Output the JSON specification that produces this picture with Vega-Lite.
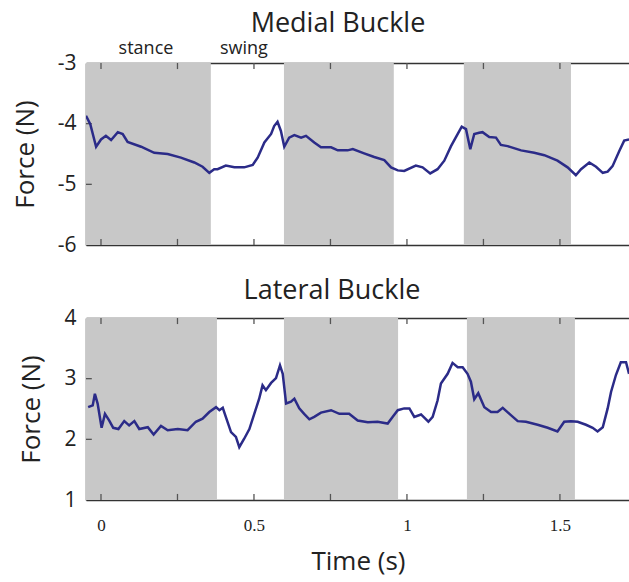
{
  "$schema": "https://vega.github.io/schema/vega-lite/v6.json",
  "padding": {"left": 12, "top": 10, "right": 0, "bottom": 4},
  "background": "white",
  "config": {
    "font": "Open Sans",
    "view": {"stroke": null},
    "axis": {"domainColor": "#333333", "domainWidth": 1.5, "ticks": false, "grid": false, "zindex": 1, "labelColor": "#222222", "titleColor": "#222222", "titleFontWeight": "normal", "labelFontSize": 21, "titleFontSize": 26, "labelFont": "Open Sans", "titleFont": "Open Sans"},
    "title": {"fontSize": 27, "fontWeight": "normal", "color": "#222222", "font": "Open Sans"}
  },
  "datasets": {
    "medial": [
      {"t": -0.049, "f": -3.87}, {"t": -0.035, "f": -4.01}, {"t": -0.016, "f": -4.38}, {"t": 0.0, "f": -4.26}, {"t": 0.016, "f": -4.2}, {"t": 0.033, "f": -4.27}, {"t": 0.055, "f": -4.14}, {"t": 0.071, "f": -4.17}, {"t": 0.087, "f": -4.3}, {"t": 0.131, "f": -4.38}, {"t": 0.174, "f": -4.48}, {"t": 0.218, "f": -4.5}, {"t": 0.261, "f": -4.56}, {"t": 0.305, "f": -4.64}, {"t": 0.332, "f": -4.71}, {"t": 0.354, "f": -4.81}, {"t": 0.37, "f": -4.75}, {"t": 0.381, "f": -4.75}, {"t": 0.408, "f": -4.69}, {"t": 0.436, "f": -4.72}, {"t": 0.468, "f": -4.72}, {"t": 0.496, "f": -4.68}, {"t": 0.512, "f": -4.56}, {"t": 0.534, "f": -4.31}, {"t": 0.556, "f": -4.17}, {"t": 0.566, "f": -4.04}, {"t": 0.577, "f": -3.97}, {"t": 0.588, "f": -4.12}, {"t": 0.599, "f": -4.38}, {"t": 0.615, "f": -4.23}, {"t": 0.632, "f": -4.19}, {"t": 0.654, "f": -4.23}, {"t": 0.67, "f": -4.2}, {"t": 0.697, "f": -4.31}, {"t": 0.719, "f": -4.39}, {"t": 0.752, "f": -4.39}, {"t": 0.774, "f": -4.44}, {"t": 0.806, "f": -4.44}, {"t": 0.823, "f": -4.42}, {"t": 0.86, "f": -4.49}, {"t": 0.893, "f": -4.55}, {"t": 0.926, "f": -4.6}, {"t": 0.948, "f": -4.72}, {"t": 0.97, "f": -4.77}, {"t": 0.991, "f": -4.78}, {"t": 1.029, "f": -4.69}, {"t": 1.051, "f": -4.72}, {"t": 1.076, "f": -4.82}, {"t": 1.1, "f": -4.75}, {"t": 1.122, "f": -4.61}, {"t": 1.144, "f": -4.37}, {"t": 1.166, "f": -4.17}, {"t": 1.179, "f": -4.05}, {"t": 1.193, "f": -4.09}, {"t": 1.207, "f": -4.42}, {"t": 1.22, "f": -4.17}, {"t": 1.236, "f": -4.15}, {"t": 1.247, "f": -4.14}, {"t": 1.269, "f": -4.22}, {"t": 1.291, "f": -4.23}, {"t": 1.307, "f": -4.35}, {"t": 1.329, "f": -4.37}, {"t": 1.373, "f": -4.44}, {"t": 1.416, "f": -4.48}, {"t": 1.449, "f": -4.52}, {"t": 1.492, "f": -4.61}, {"t": 1.525, "f": -4.72}, {"t": 1.552, "f": -4.85}, {"t": 1.569, "f": -4.75}, {"t": 1.596, "f": -4.64}, {"t": 1.618, "f": -4.71}, {"t": 1.64, "f": -4.81}, {"t": 1.656, "f": -4.79}, {"t": 1.672, "f": -4.7}, {"t": 1.694, "f": -4.45}, {"t": 1.71, "f": -4.28}, {"t": 1.726, "f": -4.26}
    ],
    "lateral": [
      {"t": -0.042, "f": 2.53}, {"t": -0.027, "f": 2.56}, {"t": -0.02, "f": 2.75}, {"t": -0.011, "f": 2.59}, {"t": 0.002, "f": 2.19}, {"t": 0.013, "f": 2.42}, {"t": 0.027, "f": 2.31}, {"t": 0.04, "f": 2.19}, {"t": 0.057, "f": 2.17}, {"t": 0.076, "f": 2.3}, {"t": 0.092, "f": 2.23}, {"t": 0.109, "f": 2.3}, {"t": 0.125, "f": 2.17}, {"t": 0.153, "f": 2.2}, {"t": 0.172, "f": 2.08}, {"t": 0.196, "f": 2.22}, {"t": 0.218, "f": 2.15}, {"t": 0.251, "f": 2.17}, {"t": 0.283, "f": 2.15}, {"t": 0.31, "f": 2.29}, {"t": 0.332, "f": 2.34}, {"t": 0.354, "f": 2.45}, {"t": 0.376, "f": 2.53}, {"t": 0.387, "f": 2.48}, {"t": 0.398, "f": 2.52}, {"t": 0.408, "f": 2.37}, {"t": 0.425, "f": 2.12}, {"t": 0.441, "f": 2.04}, {"t": 0.452, "f": 1.87}, {"t": 0.468, "f": 2.01}, {"t": 0.485, "f": 2.17}, {"t": 0.501, "f": 2.42}, {"t": 0.517, "f": 2.67}, {"t": 0.528, "f": 2.89}, {"t": 0.539, "f": 2.81}, {"t": 0.556, "f": 2.93}, {"t": 0.572, "f": 3.01}, {"t": 0.585, "f": 3.22}, {"t": 0.594, "f": 3.08}, {"t": 0.605, "f": 2.59}, {"t": 0.621, "f": 2.62}, {"t": 0.632, "f": 2.67}, {"t": 0.648, "f": 2.51}, {"t": 0.664, "f": 2.42}, {"t": 0.681, "f": 2.33}, {"t": 0.697, "f": 2.37}, {"t": 0.719, "f": 2.44}, {"t": 0.752, "f": 2.48}, {"t": 0.779, "f": 2.42}, {"t": 0.811, "f": 2.42}, {"t": 0.839, "f": 2.31}, {"t": 0.872, "f": 2.28}, {"t": 0.904, "f": 2.29}, {"t": 0.937, "f": 2.26}, {"t": 0.953, "f": 2.37}, {"t": 0.97, "f": 2.48}, {"t": 0.991, "f": 2.51}, {"t": 1.008, "f": 2.51}, {"t": 1.024, "f": 2.37}, {"t": 1.046, "f": 2.41}, {"t": 1.07, "f": 2.29}, {"t": 1.084, "f": 2.37}, {"t": 1.1, "f": 2.64}, {"t": 1.111, "f": 2.92}, {"t": 1.133, "f": 3.08}, {"t": 1.149, "f": 3.26}, {"t": 1.166, "f": 3.19}, {"t": 1.182, "f": 3.19}, {"t": 1.198, "f": 3.08}, {"t": 1.209, "f": 2.95}, {"t": 1.22, "f": 2.66}, {"t": 1.233, "f": 2.76}, {"t": 1.253, "f": 2.53}, {"t": 1.275, "f": 2.45}, {"t": 1.296, "f": 2.45}, {"t": 1.313, "f": 2.52}, {"t": 1.335, "f": 2.42}, {"t": 1.362, "f": 2.3}, {"t": 1.389, "f": 2.29}, {"t": 1.427, "f": 2.24}, {"t": 1.46, "f": 2.19}, {"t": 1.492, "f": 2.13}, {"t": 1.514, "f": 2.29}, {"t": 1.536, "f": 2.3}, {"t": 1.558, "f": 2.29}, {"t": 1.585, "f": 2.24}, {"t": 1.607, "f": 2.19}, {"t": 1.623, "f": 2.13}, {"t": 1.64, "f": 2.2}, {"t": 1.656, "f": 2.51}, {"t": 1.667, "f": 2.78}, {"t": 1.683, "f": 3.06}, {"t": 1.699, "f": 3.27}, {"t": 1.716, "f": 3.27}, {"t": 1.726, "f": 3.08}
    ],
    "medialShade": [
      {"start": -0.049, "end": 0.359}, {"start": 0.598, "end": 0.957}, {"start": 1.186, "end": 1.536}
    ],
    "lateralShade": [
      {"start": -0.049, "end": 0.379}, {"start": 0.598, "end": 0.971}, {"start": 1.196, "end": 1.549}
    ],
    "phases": [
      {"t": 0.147, "f": -2.77, "label": "stance"}, {"t": 0.467, "f": -2.77, "label": "swing"}
    ],
    "xticks": [{"t": 0}, {"t": 0.25}, {"t": 0.5}, {"t": 0.75}, {"t": 1}, {"t": 1.25}, {"t": 1.5}],
    "medialYticks": [{"f": -5}, {"f": -4}],
    "lateralYticks": [{"f": 2}, {"f": 3}]
  },
  "spacing": 22,
  "vconcat": [
    {
      "width": 544,
      "height": 182,
      "title": {"text": "Medial Buckle", "offset": 2, "dx": -20},
      "resolve": {"axis": {"x": "independent", "y": "independent"}},
      "layer": [
        {
          "data": {"name": "medialShade"},
          "mark": {"type": "rect", "color": "#c8c8c8"},
          "encoding": {
            "x": {"field": "start", "type": "quantitative", "scale": {"domain": [-0.049, 1.729], "nice": false, "zero": false},
                  "axis": {"orient": "bottom", "values": [0, 0.5, 1, 1.5], "labels": false, "title": null}},
            "x2": {"field": "end"}
          }
        },
        {
          "data": {"name": "xticks"},
          "mark": {"type": "rule", "color": "#555555", "strokeWidth": 1.3},
          "encoding": {
            "x": {"field": "t", "type": "quantitative", "axis": null},
            "y": {"datum": -6, "type": "quantitative", "axis": null},
            "y2": {"datum": -5.9}
          }
        },
        {
          "data": {"name": "xticks"},
          "mark": {"type": "rule", "color": "#555555", "strokeWidth": 1.3},
          "encoding": {
            "x": {"field": "t", "type": "quantitative", "axis": null},
            "y": {"datum": -3, "type": "quantitative", "axis": null},
            "y2": {"datum": -3.1}
          }
        },
        {
          "data": {"name": "medialYticks"},
          "mark": {"type": "rule", "color": "#555555", "strokeWidth": 1.3},
          "encoding": {
            "y": {"field": "f", "type": "quantitative", "axis": null},
            "x": {"datum": -0.049, "type": "quantitative", "axis": null},
            "x2": {"datum": -0.03}
          }
        },
        {
          "data": {"name": "medial"},
          "mark": {"type": "line", "color": "#2b2b88", "strokeWidth": 2.5, "clip": true},
          "encoding": {
            "x": {"field": "t", "type": "quantitative",
                  "axis": {"orient": "top", "values": [0, 0.5, 1, 1.5], "labels": false, "title": null}},
            "y": {"field": "f", "type": "quantitative", "scale": {"domain": [-6, -3], "nice": false, "zero": false},
                  "axis": {"values": [-6, -5, -4, -3], "labelExpr": "'' + datum.value", "title": "Force (N)", "labelPadding": 10, "titlePadding": 19}}
          }
        },
        {
          "data": {"name": "phases"},
          "mark": {"type": "text", "fontSize": 18, "color": "#222222", "baseline": "middle", "clip": false, "font": "Open Sans"},
          "encoding": {
            "x": {"field": "t", "type": "quantitative", "axis": null},
            "y": {"field": "f", "type": "quantitative", "axis": null},
            "text": {"field": "label"}
          }
        }
      ]
    },
    {
      "width": 544,
      "height": 182,
      "title": {"text": "Lateral Buckle", "offset": 2, "dx": -26},
      "resolve": {"axis": {"x": "independent", "y": "independent"}},
      "layer": [
        {
          "data": {"name": "lateralShade"},
          "mark": {"type": "rect", "color": "#c8c8c8"},
          "encoding": {
            "x": {"field": "start", "type": "quantitative", "scale": {"domain": [-0.049, 1.729], "nice": false, "zero": false},
                  "axis": {"orient": "bottom", "values": [0, 0.5, 1, 1.5], "labelExpr": "format(datum.value, '~g')", "labelFont": "Liberation Sans Narrow", "labelFontSize": 17, "labelPadding": 17, "title": "Time (s)", "titlePadding": 15}},
            "x2": {"field": "end"}
          }
        },
        {
          "data": {"name": "xticks"},
          "mark": {"type": "rule", "color": "#555555", "strokeWidth": 1.3},
          "encoding": {
            "x": {"field": "t", "type": "quantitative", "axis": null},
            "y": {"datum": 1, "type": "quantitative", "axis": null},
            "y2": {"datum": 1.1}
          }
        },
        {
          "data": {"name": "xticks"},
          "mark": {"type": "rule", "color": "#555555", "strokeWidth": 1.3},
          "encoding": {
            "x": {"field": "t", "type": "quantitative", "axis": null},
            "y": {"datum": 4, "type": "quantitative", "axis": null},
            "y2": {"datum": 3.9}
          }
        },
        {
          "data": {"name": "lateralYticks"},
          "mark": {"type": "rule", "color": "#555555", "strokeWidth": 1.3},
          "encoding": {
            "y": {"field": "f", "type": "quantitative", "axis": null},
            "x": {"datum": -0.049, "type": "quantitative", "axis": null},
            "x2": {"datum": -0.03}
          }
        },
        {
          "data": {"name": "lateral"},
          "mark": {"type": "line", "color": "#2b2b88", "strokeWidth": 2.5, "clip": true},
          "encoding": {
            "x": {"field": "t", "type": "quantitative",
                  "axis": {"orient": "top", "values": [0, 0.5, 1, 1.5], "labels": false, "title": null}},
            "y": {"field": "f", "type": "quantitative", "scale": {"domain": [1, 4], "nice": false, "zero": false},
                  "axis": {"values": [1, 2, 3, 4], "labelExpr": "'' + datum.value", "title": "Force (N)", "labelPadding": 10, "titlePadding": 19}}
          }
        }
      ]
    }
  ]
}
